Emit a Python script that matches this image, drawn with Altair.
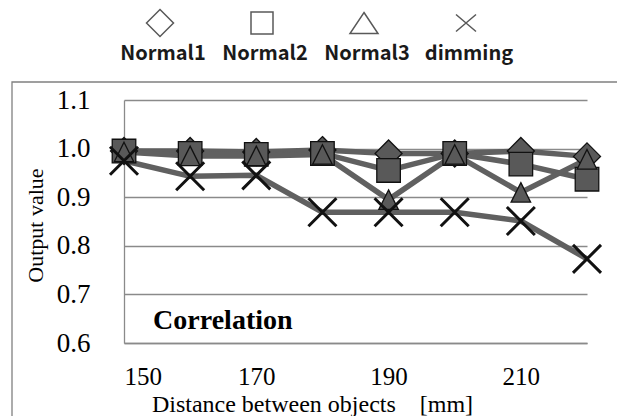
import altair as alt
import pandas as pd

# ---- data ----
distance = [150, 160, 170, 180, 190, 200, 210, 220]
series_names = ["Normal1", "Normal2", "Normal3", "dimming"]
normal1 = [0.995, 0.995, 0.993, 0.997, 0.990, 0.990, 0.995, 0.984]
normal2 = [0.995, 0.990, 0.988, 0.990, 0.955, 0.990, 0.968, 0.937]
normal3 = [0.993, 0.985, 0.985, 0.988, 0.895, 0.988, 0.910, 0.978]
dimming = [0.975, 0.943, 0.945, 0.869, 0.869, 0.869, 0.851, 0.773]
x_ticks = [150, 170, 190, 210]
y_ticks = [0.6, 0.7, 0.8, 0.9, 1.0, 1.1]
x_title = "Distance between objects\u00a0\u00a0\u00a0\u00a0[mm]"
y_title = "Output value"
annotation = "Correlation"

rows = []
for name, vals in zip(series_names, [normal1, normal2, normal3, dimming]):
    for i, (d, v) in enumerate(zip(distance, vals)):
        rows.append({"series": name, "distance": d, "value": v, "order": i})
df = pd.DataFrame(rows)
legend_df = pd.DataFrame({"series": series_names})

SERIF = "Liberation Serif"
LEGFONT = "Noto Sans CJK JP, Noto Sans, sans-serif"
GRID = "#8a8a8a"

x_enc = alt.X(
    "distance:Q",
    scale=alt.Scale(domain=[150, 220], nice=False, zero=False),
    axis=alt.Axis(
        values=x_ticks, grid=False, ticks=False, tickSize=0,
        domainColor=GRID, domainWidth=1.3,
        labelFont=SERIF, labelFontSize=25, labelColor="black", labelPadding=21,
        title=x_title, titleFont=SERIF, titleFontSize=24, titleFontWeight="normal",
        titleColor="black", titleX=188, titleY=68, titleAlign="center",
        titleBaseline="alphabetic",
    ),
)
y_enc = alt.Y(
    "value:Q",
    scale=alt.Scale(domain=[0.6, 1.1], nice=False, zero=False),
    axis=alt.Axis(
        values=y_ticks, format=".1f", grid=True, gridColor=GRID, gridWidth=1.3,
        ticks=False, tickSize=0, domainColor=GRID, domainWidth=1.3,
        labelFont=SERIF, labelFontSize=27, labelColor="black", labelPadding=34,
        title=y_title, titleFont=SERIF, titleFontSize=22, titleFontWeight="normal",
        titleColor="black", titleX=-82, titleY=125, titleAngle=270,
        titleAlign="center", titleBaseline="alphabetic",
    ),
)

lines = alt.Chart(df).mark_line(strokeWidth=5.5, color="#606060").encode(
    x=x_enc, y=y_enc, detail="series:N", order="order:Q"
)

filled_names = series_names[:3]
filled = alt.Chart(df).transform_filter(
    alt.FieldOneOfPredicate(field="series", oneOf=filled_names)
).mark_point(filled=True, fill="#595959", stroke="#111111", strokeWidth=1.3, opacity=1).encode(
    x=x_enc, y=y_enc,
    shape=alt.Shape("series:N", scale=alt.Scale(
        domain=filled_names,
        range=["M0,-1L1,0L0,1L-1,0Z", "M-1,-1L1,-1L1,1L-1,1Z", "M0,-1L1,1L-1,1Z"]), legend=None),
    size=alt.Size("series:N", scale=alt.Scale(domain=filled_names, range=[729, 380, 760]), legend=None),
)

crosses = alt.Chart(df).transform_filter(alt.datum.series == "dimming").mark_point(
    shape="M-1,-1L1,1M1,-1L-1,1", size=784, filled=False, stroke="#111111",
    strokeWidth=3, opacity=1
).encode(x=x_enc, y=y_enc)

note = alt.Chart(pd.DataFrame({"t": [annotation]})).mark_text(
    font=SERIF, fontSize=28, fontWeight="bold", align="left", baseline="middle", color="black"
).encode(x=alt.datum(154.4), y=alt.datum(0.645), text="t:N")

frame = alt.Chart(pd.DataFrame({"a": [0]})).mark_rect(
    fill=None, stroke="#808080", strokeWidth=1.3
).encode(x=alt.value(-112), x2=alt.value(494), y=alt.value(-18), y2=alt.value(330))

# legend (symbols above labels)
leg_x = alt.X("series:N", scale=alt.Scale(type="point", domain=series_names, range=[36, 342], padding=0), axis=None)
leg_shapes = ["M0,-1L1,0L0,1L-1,0Z", "M-1,-1L1,-1L1,1L-1,1Z", "M0,-0.75L1,0.75L-1,0.75Z", "M-1,-0.85L1,0.85M1,-0.85L-1,0.85"]
leg_sizes = [729, 484, 784, 400]
legend_layers = []
for name, shp, sz in zip(series_names, leg_shapes, leg_sizes):
    legend_layers.append(
        alt.Chart(legend_df).transform_filter(alt.datum.series == name).mark_point(
            shape=shp, size=sz, filled=False, stroke="#595959", strokeWidth=1.5, opacity=1
        ).encode(x=leg_x, y=alt.value(-77))
    )
legend_text = alt.Chart(legend_df).mark_text(
    font=LEGFONT, fontSize=20, fontWeight="bold", color="#1a1a1a", align="center",
    baseline="middle", dx=3
).encode(x=leg_x, y=alt.value(-46), text="series:N")

main = alt.layer(frame, lines, filled, crosses, note)
leg = alt.layer(*legend_layers, legend_text)

chart = alt.layer(main, leg).resolve_scale(x="independent").properties(
    width=463, height=243,
    autosize=alt.AutoSizeParams(type="none"),
    padding={"left": 116, "top": 92, "right": 30, "bottom": 80},
).configure_view(stroke=None)

chart.save("out.html", embed_options={"renderer": "svg", "actions": False})
